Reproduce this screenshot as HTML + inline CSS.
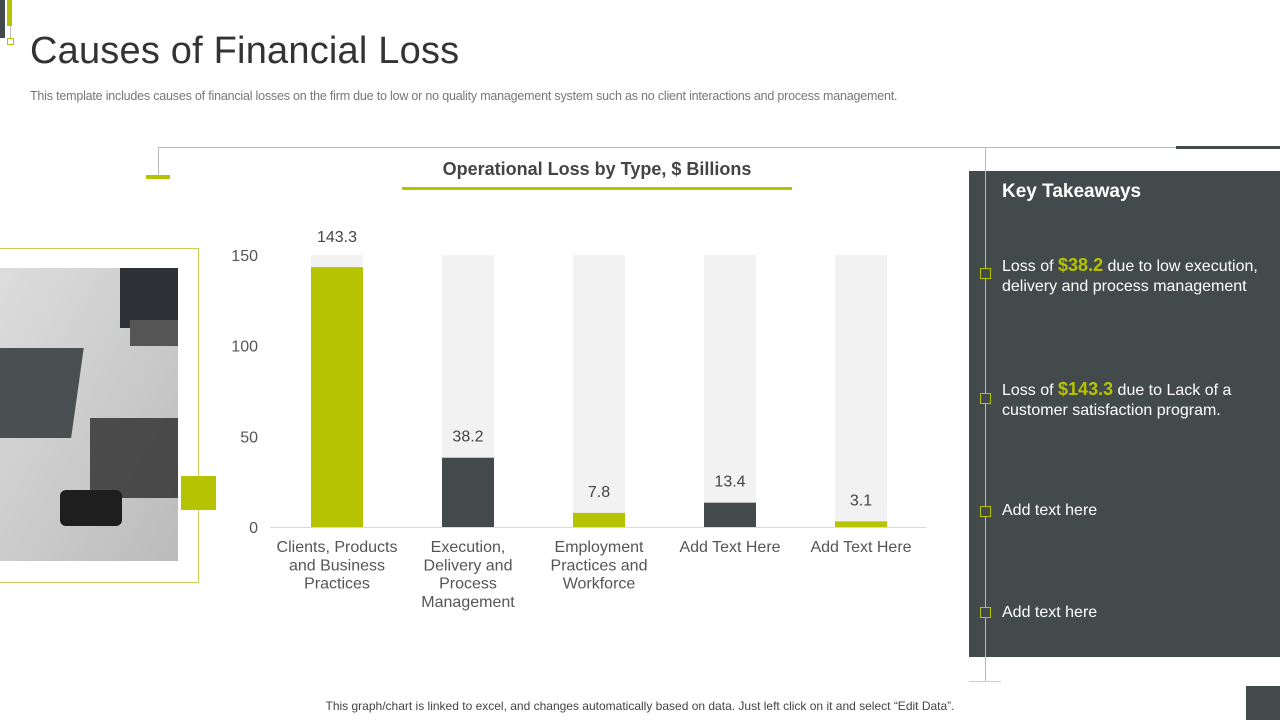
<!DOCTYPE html>
<html><head><meta charset="utf-8"><style>
body{margin:0;width:1280px;height:720px;position:relative;overflow:hidden;background:#fff;font-family:"Liberation Sans",sans-serif}
.a{position:absolute}
</style></head><body>
<div class="a" style="left:0;top:0;width:5px;height:38px;background:#434a4b"></div>
<div class="a" style="left:7px;top:0;width:5px;height:26px;background:#b5c300"></div>
<div class="a" style="left:10px;top:26px;width:1px;height:12px;background:#bbb"></div>
<div class="a" style="left:7px;top:38px;width:5px;height:5px;border:1px solid #b5c300"></div>
<div class="a" style="left:30px;top:30px;font-size:38px;color:#333;letter-spacing:0.2px">Causes of Financial Loss</div>
<div class="a" style="left:30px;top:89px;font-size:12.5px;color:#777;letter-spacing:-0.2px;white-space:nowrap">This template includes causes of financial losses on the firm due to low or no quality management system such as no client interactions and process management.</div>
<div class="a" style="left:158px;top:147px;width:1018px;height:1px;background:#bbb"></div>
<div class="a" style="left:158px;top:147px;width:1px;height:30px;background:#bbb"></div>
<div class="a" style="left:146px;top:175px;width:24px;height:4px;background:#b5c300"></div>
<div class="a" style="left:1176px;top:146px;width:104px;height:3px;background:#434a4b"></div>
<div class="a" style="left:402px;top:159px;width:390px;text-align:center;font-size:18px;font-weight:bold;color:#444">Operational Loss by Type, $ Billions</div>
<div class="a" style="left:402px;top:187px;width:390px;height:3px;background:#b5c300"></div>
<div class="a" style="left:-2px;top:248px;width:199px;height:333px;border:1px solid #c8cf5a"></div>
<svg class="a" style="left:0;top:268px" width="178" height="293">
<defs><linearGradient id="g" x1="0" y1="0" x2="1" y2="1"><stop offset="0" stop-color="#ddd"/><stop offset="1" stop-color="#bbb"/></linearGradient></defs>
<rect width="178" height="293" fill="url(#g)"/>
<rect x="120" y="0" width="58" height="60" fill="#2e3236"/>
<rect x="0" y="80" width="95" height="90" fill="#4a4f52" transform="skewX(-8)"/>
<rect x="90" y="150" width="88" height="80" fill="#2a2a2a" opacity="0.8"/>
<rect x="60" y="222" width="62" height="36" rx="6" fill="#1e1e1e"/>
<rect x="130" y="52" width="48" height="26" fill="#555"/>
</svg>
<div class="a" style="left:181px;top:476px;width:35px;height:34px;background:#b5c300"></div>
<svg class="a" id="chart" style="left:0;top:0" width="960" height="640"></svg>
<div class="a" style="left:969px;top:171px;width:311px;height:486px;background:#434a4b"></div>
<div class="a" style="left:985px;top:147px;width:1px;height:535px;background:#bbb"></div>
<div class="a" style="left:969px;top:681px;width:32px;height:1px;background:#ccc"></div>
<div class="a" style="left:1002px;top:181px;font-size:19px;font-weight:bold;color:#fff">Key Takeaways</div>
<div class="a" style="left:1002px;top:255px;font-size:16px;color:#fff;line-height:20px;width:270px">Loss of <b style="color:#b5c300;font-size:18px">$38.2</b> due to low execution, delivery and process management</div>
<div class="a" style="left:1002px;top:379px;font-size:16px;color:#fff;line-height:20px;width:270px">Loss of <b style="color:#b5c300;font-size:18px">$143.3</b> due to Lack of a customer satisfaction program.</div>
<div class="a" style="left:1002px;top:502px;font-size:16px;color:#fff">Add text here</div>
<div class="a" style="left:1002px;top:604px;font-size:16px;color:#fff">Add text here</div>
<div class="a" style="left:980px;top:268px;width:9px;height:9px;border:1px solid #b5c300;background:#434a4b"></div>
<div class="a" style="left:980px;top:393px;width:9px;height:9px;border:1px solid #b5c300;background:#434a4b"></div>
<div class="a" style="left:980px;top:506px;width:9px;height:9px;border:1px solid #b5c300;background:#434a4b"></div>
<div class="a" style="left:980px;top:607px;width:9px;height:9px;border:1px solid #b5c300;background:#434a4b"></div>
<div class="a" style="left:0;width:1280px;top:699px;text-align:center;font-size:12px;color:#444">This graph/chart is linked to excel, and changes automatically based on data. Just left click on it and select “Edit Data”.</div>
<div class="a" style="left:1246px;top:686px;width:34px;height:34px;background:#434a4b"></div>
<script>
const categories=[["Clients, Products","and Business","Practices"],["Execution,","Delivery and","Process","Management"],["Employment","Practices and","Workforce"],["Add Text Here"],["Add Text Here"]];
const values=[143.3,38.2,7.8,13.4,3.1];
const barColors=["#b5c300","#434a4b","#b5c300","#434a4b","#b5c300"];
const yTicks=[0,50,100,150];
const yMax=150;
const NS="http://www.w3.org/2000/svg";
const svg=document.getElementById('chart');
const y=v=>527-v/yMax*272;
const x=i=>337+i*131;
function mk(t,a){const e=document.createElementNS(NS,t);for(const k in a)e.setAttribute(k,a[k]);svg.appendChild(e);return e;}
yTicks.forEach(t=>{const e=mk('text',{x:258,y:y(t)+6,'text-anchor':'end','font-size':16,fill:'#555'});e.textContent=t;

});
values.forEach((v,i)=>{
const bg=mk('rect',{x:x(i)-26,y:y(yMax),width:52,height:y(0)-y(yMax),fill:'#f2f2f2'});


const b=mk('rect',{x:x(i)-26,y:y(v),width:52,height:y(0)-y(v),fill:barColors[i]});


let ly=y(v)-16;
if(ly<y(yMax)+10) ly=y(yMax)-13;
const l=mk('text',{x:x(i),y:ly,'text-anchor':'middle','font-size':16,fill:'#444'});l.textContent=v;


categories[i].forEach((s,j)=>{const c=mk('text',{x:x(i),y:552+j*18.3,'text-anchor':'middle','font-size':16,fill:'#555'});c.textContent=s;

});
});
const ax=mk('line',{x1:270,x2:926,y1:527.5,y2:527.5,stroke:'#d9d9d9'});


</script>
</body></html>
